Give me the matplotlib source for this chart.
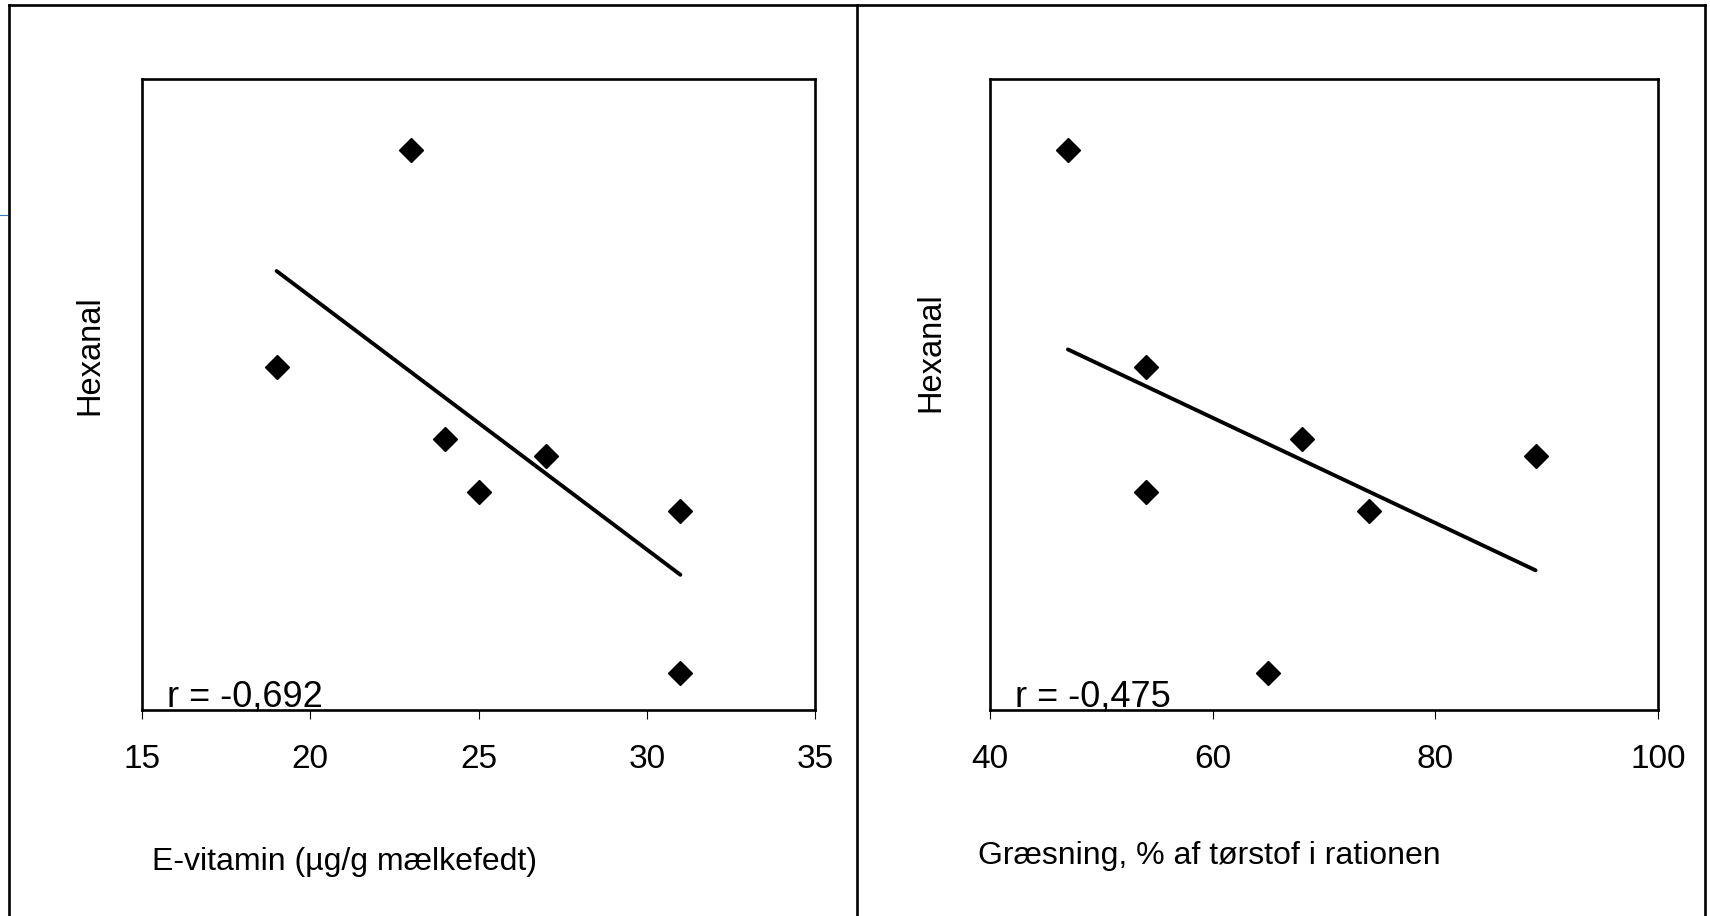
import matplotlib.pyplot as plt
from matplotlib.lines import Line2D

# hexanal (arbitrary units, no y scale shown in the source chart)
vit_e = [19, 23, 24, 25, 27, 31, 31]
hex_vit = [3.81, 6.21, 3.01, 2.42, 2.82, 2.21, 0.41]
vit_trend_x = [19, 31]
vit_trend_y = [4.87, 1.50]
vit_ticks = [15, 20, 25, 30, 35]

graze = [47, 54, 54, 65, 68, 74, 89]
hex_graze = [6.21, 3.81, 2.42, 0.41, 3.01, 2.21, 2.82]
graze_trend_x = [47, 89]
graze_trend_y = [4.00, 1.55]
graze_ticks = [40, 60, 80, 100]

W, H = 1710, 916
plt.rcParams["font.family"] = ["Liberation Sans", "DejaVu Sans"]

fig = plt.figure(figsize=(W / 100, H / 100), dpi=100)


def px(x0, y0, x1, y1):
    # pixel box (top-left origin) -> figure fraction rect
    return [x0 / W, 1 - y1 / H, (x1 - x0) / W, (y1 - y0) / H]


def panel(rect, x, y, tx, ty, ticks, r_text, xlabel, xlab_pos, ylab_pos):
    ax = fig.add_axes(rect)
    ax.plot(tx, ty, color="black", lw=2.8, solid_capstyle="round")
    ax.plot(x, y, linestyle="none", marker="D", markersize=12.5,
            color="black", clip_on=False)
    ax.set_xlim(ticks[0], ticks[-1])
    ax.set_ylim(0, 7)
    ax.set_xticks(ticks)
    ax.set_yticks([])
    ax.tick_params(axis="x", direction="out", length=6.5, width=0.8,
                   pad=18, labelsize=24)
    for s in ax.spines.values():
        s.set_linewidth(1.9)
    ax.text(0.037, 0.006, r_text, transform=ax.transAxes, fontsize=26,
            va="baseline", ha="left")
    fig.text(xlab_pos[0] / W, 1 - xlab_pos[1] / H, xlabel, fontsize=23,
             ha="left", va="baseline")
    fig.text(ylab_pos[0] / W, 1 - ylab_pos[1] / H, "Hexanal", fontsize=23.5,
             rotation=90, ha="center", va="center")
    return ax


panel(px(142, 79, 815, 710), vit_e, hex_vit, vit_trend_x, vit_trend_y,
      vit_ticks, "r = -0,692", "E-vitamin (µg/g mælkefedt)",
      (152, 870), (90, 355))
panel(px(990, 79, 1658, 710), graze, hex_graze, graze_trend_x, graze_trend_y,
      graze_ticks, "r = -0,475", "Græsning, % af tørstof i rationen",
      (978, 864), (931, 352))

# outer frames around the two panels
frame = [((8.6, 8.6), (5, H)), ((857, 857), (5, H)), ((1705, 1705), (5, H)),
         ((8.6, 1705), (5, 5))]
for xs, ys in frame:
    fig.add_artist(Line2D([v / W for v in xs], [1 - v / H for v in ys],
                          color="black", lw=1.9))
fig.add_artist(Line2D([0, 7 / W], [1 - 215 / H] * 2, color="#4472C4", lw=0.8))

fig.savefig("out.png", dpi=100)
